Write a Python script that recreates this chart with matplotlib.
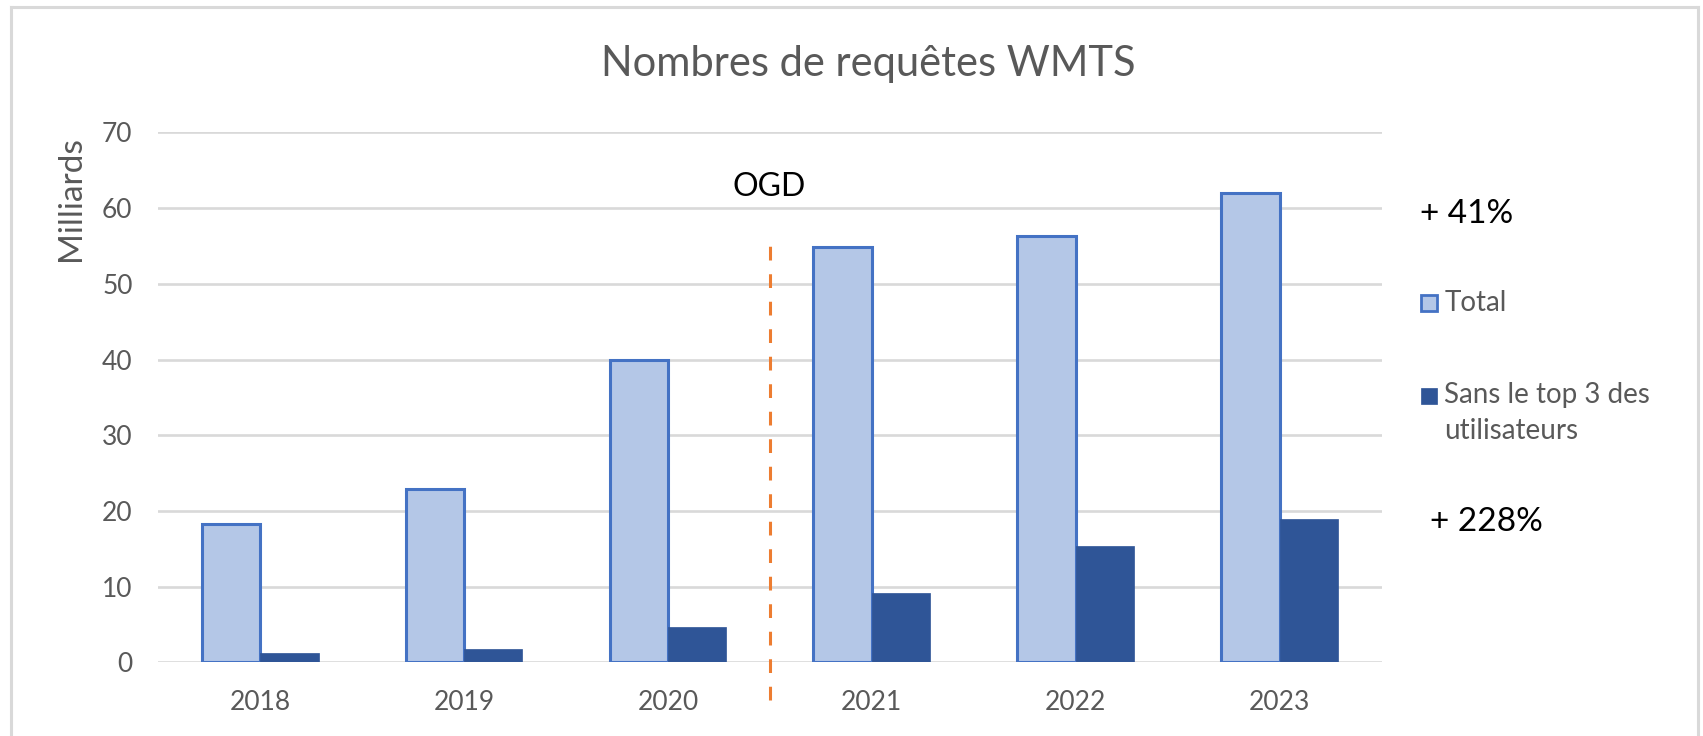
import matplotlib
matplotlib.use("Agg")
import matplotlib.pyplot as plt
from matplotlib.patches import Rectangle
from matplotlib.lines import Line2D
import numpy as np

# ---- data ----
years = ["2018", "2019", "2020", "2021", "2022", "2023"]
total = [18.3, 22.9, 40.0, 54.8, 56.3, 62.0]
sans_top3 = [1.2, 1.8, 4.6, 9.1, 15.4, 18.9]
yticks = [0, 10, 20, 30, 40, 50, 60, 70]
title = "Nombres de requêtes WMTS"
ylabel = "Milliards"
legend_labels = ["Total", "Sans le top 3 des", "utilisateurs"]
growth_total = "+ 41%"
growth_sans = "+ 228%"
ogd_label = "OGD"
ogd_pos = 2.5  # between 2020 and 2021

# ---- style ----
plt.rcParams['font.family'] = ['Lato', 'DejaVu Sans']
W, H = 1703, 736
DPI = 100
GREY = "#595959"
GRID = "#d9d9d9"
LIGHT = "#B4C7E7"
EDGE = "#4472C4"
DARK = "#2F5597"
ORANGE = "#ED7D31"

fig = plt.figure(figsize=(W / DPI, H / DPI), dpi=DPI)
fig.patch.set_facecolor("white")

def fx(px):
    return px / W

def fy(py):
    return 1 - py / H

# axes placement (pixels)
L, R, T, B = 158.3, 1381.5, 132.4, 662.3
ax = fig.add_axes([fx(L), fy(B), fx(R) - fx(L), fy(T) - fy(B)])

x = np.arange(len(years))
w = 0.2864
ax.bar(x - w / 2, total, width=w, color=LIGHT, edgecolor=EDGE, linewidth=2.2, zorder=3)
ax.bar(x + w / 2, sans_top3, width=w, color=DARK, edgecolor=DARK, linewidth=0.5, zorder=3)

ax.set_xlim(-0.5, len(years) - 0.5)
ax.set_ylim(0, 70)
ax.set_yticks(yticks)
ax.set_xticks(x)
ax.set_xticklabels(years)
ax.yaxis.grid(True, color=GRID, linewidth=1.9)
ax.set_axisbelow(True)
for s in ax.spines.values():
    s.set_visible(False)
ax.tick_params(axis='both', length=0, labelsize=19, labelcolor=GREY)
ax.tick_params(axis='y', pad=18.5)
ax.tick_params(axis='x', pad=20)

# OGD dashed line
ax.axvline(ogd_pos, ymin=-5.0 / 70, ymax=56.4 / 70, color=ORANGE, linewidth=2.2,
           linestyle=(0, (4.5, 4.5)), clip_on=False, zorder=4)
fig.text(fx(768.7), fy(195.7), ogd_label, ha='center', va='baseline', fontsize=23, color='black')

# title & ylabel
fig.text(fx(868), fy(76), title, ha='center', va='baseline', fontsize=30, color=GREY)
fig.text(fx(71), fy(199), ylabel, ha='center', va='center', rotation=90, fontsize=24, color=GREY)

# growth annotations
fig.text(fx(1420), fy(222.7), growth_total, ha='left', va='baseline', fontsize=24, color='black')
fig.text(fx(1430), fy(530.7), growth_sans, ha='left', va='baseline', fontsize=24, color='black')

# legend (manual)
fig.patches.append(Rectangle((fx(1421), fy(311)), fx(16), 16 / H, transform=fig.transFigure,
                             facecolor=LIGHT, edgecolor=EDGE, linewidth=2.0))
fig.text(fx(1445), fy(310.7), legend_labels[0], ha='left', va='baseline', fontsize=20, color=GREY)
fig.patches.append(Rectangle((fx(1421), fy(403.5)), fx(16), 15.5 / H, transform=fig.transFigure,
                             facecolor=DARK, edgecolor=DARK, linewidth=0.5))
fig.text(fx(1444), fy(402.7), legend_labels[1], ha='left', va='baseline', fontsize=20, color=GREY)
fig.text(fx(1444), fy(439.3), legend_labels[2], ha='left', va='baseline', fontsize=20, color=GREY)

# outer frame of chart (left, top, right)
frame_kw = dict(color=GRID, linewidth=2.2, transform=fig.transFigure)
fig.lines.append(Line2D([fx(10.5), fx(10.5)], [0, fy(6.7)], **frame_kw))
fig.lines.append(Line2D([fx(10.5), fx(1697.5)], [fy(6.7), fy(6.7)], **frame_kw))
fig.lines.append(Line2D([fx(1697.5), fx(1697.5)], [0, fy(6.7)], **frame_kw))

fig.savefig("out.png", dpi=DPI)
